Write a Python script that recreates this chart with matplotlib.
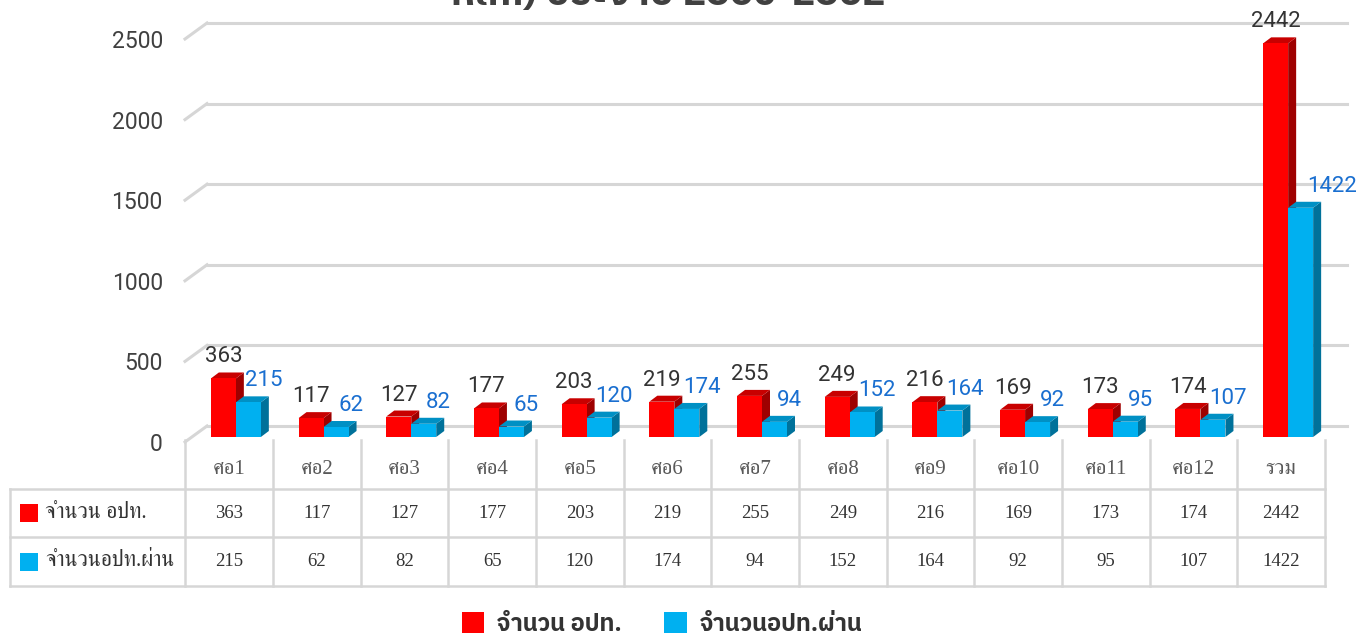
import matplotlib
matplotlib.use('Agg')
import matplotlib.pyplot as plt
from matplotlib.patches import Polygon, Rectangle, Patch

# ---- data ----
categories = ['ศอ1', 'ศอ2', 'ศอ3', 'ศอ4', 'ศอ5', 'ศอ6', 'ศอ7', 'ศอ8',
              'ศอ9', 'ศอ10', 'ศอ11', 'ศอ12', 'รวม']
total_opt = [363, 117, 127, 177, 203, 219, 255, 249, 216, 169, 173, 174, 2442]
passed_opt = [215, 62, 82, 65, 120, 174, 94, 152, 164, 92, 95, 107, 1422]
series_names = ['จำนวน อปท.', 'จำนวนอปท.ผ่าน']
yticks = [0, 500, 1000, 1500, 2000, 2500]
title = 'หลัก) ประจำปี 2560-2562'

RED, RED_TOP, RED_SIDE = '#FF0000', '#C80000', '#9E0000'
BLUE, BLUE_TOP, BLUE_SIDE = '#00B0F0', '#0090C4', '#00719A'
GRID = '#D6D6D6'

SANS_TH = ['IBM Plex Sans Thai', 'Kanit', 'Noto Sans Thai', 'DejaVu Sans']
SERIF_TH = ['Liberation Serif', 'FreeSerif', 'DejaVu Serif']
NUM = ['Roboto', 'DejaVu Sans']

W, H = 1358, 637
fig = plt.figure(figsize=(W / 100, H / 100), dpi=100)

ax = fig.add_axes([185 / W, 1 - 442 / H, 1140 / W, 403 / H])
ax.set_xlim(0, len(categories))
ax.set_ylim(0, 2500)
for s in ax.spines.values():
    s.set_visible(False)
ax.set_xticks([])
ax.set_yticks(yticks)
ax.set_yticklabels([str(v) for v in yticks], family=NUM)
ax.tick_params(axis='y', length=0, pad=16, labelsize=16.5, labelcolor='#404040')

p0 = ax.transData.transform((0, 0))
p1 = ax.transData.transform((1, 1))
ux, uy = p1[0] - p0[0], p1[1] - p0[1]


def d(px, py):
    # pixel offset -> data offset
    return px / ux, py / uy


# gridlines with the 3D wall slant
gx, gy = d(22, 16)
for v in yticks:
    ax.plot([0, gx], [v, v + gy], color=GRID, lw=2.2, clip_on=False, zorder=1)
    ax.plot([gx, len(categories) + gx], [v + gy, v + gy], color=GRID, lw=2.2,
            clip_on=False, zorder=1)

w = 0.285
fx, fy = d(7, 5)
bx, by = d(15, 11)


def bar3d(x0, v, cf, ct, cs, z):
    side = Polygon([(x0 + w + fx, fy), (x0 + w + bx, by), (x0 + w + bx, v + by),
                    (x0 + w + fx, v + fy)], closed=True, fc=cs, ec='none',
                   clip_on=False, zorder=z)
    top = Polygon([(x0 + fx, v + fy), (x0 + w + fx, v + fy), (x0 + w + bx, v + by),
                   (x0 + bx, v + by)], closed=True, fc=ct, ec='none',
                  clip_on=False, zorder=z)
    front = Rectangle((x0 + fx, fy), w, v, fc=cf, ec='none', clip_on=False, zorder=z)
    for p in (side, top, front):
        ax.add_patch(p)


lab_dy = d(0, 16)[1]
for i, (r, b) in enumerate(zip(total_opt, passed_opt)):
    xc = i + 0.5
    bar3d(xc - w, r, RED, RED_TOP, RED_SIDE, 3 + i * 0.01)
    bar3d(xc, b, BLUE, BLUE_TOP, BLUE_SIDE, 3.005 + i * 0.01)
    ax.text(xc - w / 2 + fx, r + fy + lab_dy, str(r), ha='center', va='baseline',
            fontsize=16, color='#333333', family=NUM, zorder=6)
    shift = 31 if r - b > 500 else 15
    ax.text(xc + w / 2 + fx + d(shift, 0)[0], b + fy + lab_dy, str(b), ha='center',
            va='baseline', fontsize=16, color='#1A6FD0', family=NUM, zorder=6)

# ---- data table under the chart ----
tax = fig.add_axes([10 / W, 1 - 586 / H, 1315 / W, 146 / H])
n = len(categories)
tax.set_xlim(-2, n)
tax.set_ylim(0, 3)
tax.axis('off')
for yy in (0, 1, 2):
    tax.plot([-2, n], [yy, yy], color=GRID, lw=1.8, clip_on=False)
tax.plot([-2, -2], [0, 2], color=GRID, lw=1.8, clip_on=False)
for k in range(n + 1):
    tax.plot([k, k], [0, 3], color=GRID, lw=1.8, clip_on=False)

for i, c in enumerate(categories):
    tax.text(i + 0.5, 2.4, c, ha='center', va='center', fontsize=15,
             color='#595959', family=SERIF_TH)
    tax.text(i + 0.5, 1.5, str(total_opt[i]), ha='center', va='center',
             fontsize=13.5, color='#333333', family=SERIF_TH)
    tax.text(i + 0.5, 0.5, str(passed_opt[i]), ha='center', va='center',
             fontsize=13.5, color='#333333', family=SERIF_TH)

sw, sh = 18 / 87.7, 18 / 48.7
for row, (name, col) in enumerate(zip(series_names, [RED, BLUE])):
    yc = 1.5 - row
    tax.add_patch(Rectangle((-1.886, yc - sh / 2), sw, sh, fc=col, ec='none',
                            clip_on=False))
    tax.text(-1.6, yc, name, ha='left', va='center', fontsize=15.5,
             color='#333333', family=SERIF_TH)

# ---- legend ----
handles = [Patch(fc=RED, ec='none'), Patch(fc=BLUE, ec='none')]
leg = fig.legend(handles, series_names, loc='center',
                 bbox_to_anchor=(662 / W, 1 - 624 / H),
                 ncol=2, frameon=False, handlelength=0.95, handleheight=0.95,
                 handletextpad=0.55, columnspacing=1.8,
                 prop={'family': SANS_TH, 'weight': 'bold', 'size': 17})
for t in leg.get_texts():
    t.set_color('#333333')

# title, cut off at the top edge as in the source
fig.text(668 / W, 1 - 5 / H, title, ha='center', va='baseline', fontsize=28,
         weight='bold', color='#404040', family=SANS_TH)

fig.savefig('out.png', dpi=100)
